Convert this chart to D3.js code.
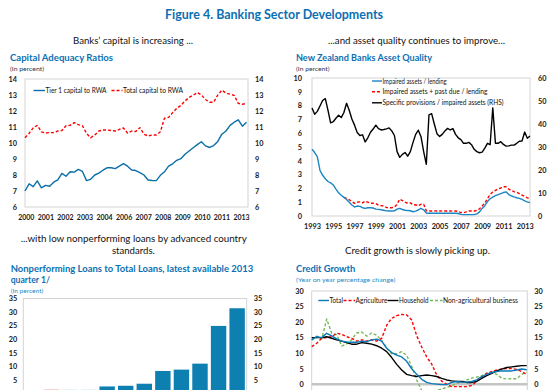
<!DOCTYPE html>
<html><head><meta charset="utf-8">
<script src="https://cdn.jsdelivr.net/npm/d3@7"></script>
<style>html,body{margin:0;padding:0;background:#fff;overflow:hidden}</style>
</head><body><svg id="c" width="550" height="390"></svg>
<script>
// ---------- DATA ----------
// Panel 1: Capital Adequacy Ratios (quarterly, 2000Q1 - 2013Q3)
const carTickLabels = ["2000","2001","2002","2003","2004","2006","2007","2008","2009","2010","2011","2013"];
const carYTicks = [6,7,8,9,10,11,12,13,14];
const tier1 = [7.0,7.45,7.27,7.63,7.2,7.35,7.3,7.55,7.7,8.1,
  7.92,8.2,8.18,8.35,8.22,7.65,7.73,8.0,8.12,8.3,
  8.45,8.45,8.4,8.55,8.71,8.55,8.31,8.28,8.15,8.0,
  7.69,7.66,7.65,7.98,8.2,8.55,8.7,8.92,9.02,9.3,
  9.5,9.7,9.9,10.08,9.82,9.72,9.84,10.1,10.55,10.75,
  11.1,11.3,11.45,11.05,11.3];
const totalCapital = [10.33,10.6,10.95,11.1,10.7,10.62,10.65,10.65,10.75,10.78,
  11.08,11.1,11.27,11.15,11.08,10.6,10.33,10.5,10.75,10.81,
  10.81,10.78,10.75,10.85,10.94,10.62,10.75,10.72,10.96,10.55,
  10.44,10.5,10.5,10.7,11.55,11.6,11.9,12.17,12.35,12.62,
  12.85,12.98,13.15,13.0,12.72,12.55,12.55,13.0,13.3,13.12,
  13.05,12.98,12.48,12.42,12.48];

// Panel 2: NZ Banks Asset Quality (quarterly, 1993Q1 - 2013Q3)
const aqYearTicks = [1993,1995,1997,1999,2001,2003,2005,2007,2009,2011,2013];
const aqLeftTicks = [0,1,2,3,4,5,6,7,8,9,10];
const aqRightTicks = [0,10,20,30,40,50,60];
const impaired = [4.85,4.6,4.3,3.3,2.95,2.7,2.5,2.4,2.25,1.95,
  1.68,1.5,1.35,1.2,1.0,0.8,0.65,0.72,0.7,0.6,
  0.55,0.6,0.6,0.58,0.5,0.48,0.45,0.42,0.37,0.36,
  0.36,0.37,0.5,0.55,0.47,0.42,0.4,0.38,0.31,0.35,
  0.45,0.55,0.45,0.22,0.2,0.2,0.2,0.2,0.2,0.2,
  0.2,0.2,0.2,0.2,0.2,0.18,0.12,0.1,0.1,0.1,
  0.1,0.1,0.15,0.3,0.55,0.75,1.05,1.25,1.37,1.47,
  1.55,1.62,1.7,1.75,1.55,1.45,1.38,1.32,1.28,1.2,
  1.1,1.02,0.97];
const impairedPastDue = [null,null,null,null,null,null,null,null,null,null,
  null,null,1.35,1.28,1.18,1.05,0.92,1.0,1.02,0.95,
  1.08,1.0,0.92,0.92,0.9,0.78,0.75,0.72,0.62,0.6,
  0.6,0.65,0.85,1.22,1.12,1.0,0.92,0.95,0.82,0.8,
  0.75,0.85,0.85,0.38,0.36,0.36,0.37,0.36,0.36,0.37,
  0.36,0.36,0.36,0.35,0.36,0.33,0.25,0.24,0.3,0.36,
  0.36,0.36,0.4,0.52,0.72,0.95,1.25,1.57,1.74,1.86,
  1.95,2.03,2.12,2.12,1.95,1.85,1.76,1.72,1.62,1.52,
  1.42,1.32,1.25];
const provisions = [47.0,44.2,45.5,47.8,50.2,51.0,46,40.5,41.0,42.5,
  43.8,42.8,45,49,46,42.2,39.5,36.3,35,35.3,
  32.2,34,36.4,37.8,39.5,38,37.4,37.6,37.9,38.3,
  37,35,28,25.5,26.8,27.6,26,28,32,35.5,
  37.3,34.5,28,22.5,44,44.5,40,35.8,34.6,35.5,
  37,38.1,37.4,38,35.5,34,33.2,31.6,31.6,32,
  31,29,28,27.5,27.8,29.5,31.6,31,47,31.6,
  31.6,32.3,31.1,30.4,30.5,30.8,30.8,31.6,32.5,32.6,
  36.5,33.8,34.8];

// Panel 3: Nonperforming loans to total loans (percent); category labels lie below the visible area
const nplCountries = ["Canada","New Zealand","Australia","Sweden","United States","United Kingdom","Japan","Spain","Portugal","Italy","Ireland","Greece"];
const nplValues = [0.5,1.5,1.4,1.4,2.6,2.85,3.6,8.3,8.8,11.0,24.9,31.4];
const nplTicks = [5,10,15,20,25,30,35];

// Panel 4: Credit growth (year-on-year % change, quarterly)
const cgTicks = [0,5,10,15,20,25,30];
const cgTotal = [14.3,15.3,15.0,16.4,15.6,14.6,13.9,13.6,13.5,13.5,
  13.9,13.7,14.3,14.5,13.9,11.6,10.2,9.4,8.8,7.4,
  5.0,3.2,1.6,0.6,0.2,0.05,-0.1,-0.1,0.6,0.9,
  0.7,0.7,0.9,1.4,2.5,3.2,3.8,4.1,4.3,4.3,
  4.3,4.6,4.9,4.7];
const cgAgriculture = [12.1,13.2,14.8,15.0,15.3,16.4,16.1,15.3,14.8,13.9,
  14.3,13.9,14.3,13.9,14.8,19.0,21.2,22.1,22.5,22.3,
  20.7,15.6,12.0,8.8,6.5,3.0,1.0,0.0,-0.75,-0.75,
  -0.75,-0.75,-0.4,1.0,2.2,3.5,4.1,4.6,4.9,5.1,
  5.1,4.8,4.1,3.2];
const cgHousehold = [15.0,15.0,15.0,15.3,14.8,14.3,13.9,13.4,12.9,12.9,
  13.4,13.2,12.9,12.4,11.6,10.5,8.6,6.4,4.6,3.2,
  2.8,2.5,2.8,3.0,2.8,2.5,1.9,1.4,1.1,0.9,
  0.9,0.6,0.6,0.9,1.9,2.8,3.5,4.3,4.9,5.4,
  5.6,5.8,6.0,6.0];
const cgNonAgri = [14.3,15.5,14.6,21.0,16.4,15.9,12.3,13.0,14.3,16.5,
  16.8,15.5,16.5,15.8,14.0,11.8,9.8,9.8,10.5,9.3,
  5.7,1.4,-2.0,-3.0,-2.5,-2.0,-1.5,-1.0,-0.5,0.3,
  0.8,1.4,2.0,2.3,2.8,3.6,3.8,3.2,2.0,1.7,
  1.8,1.8,3.2,3.9];

// ---------- DRAWING ----------
const svg = d3.select('#c');
const FONT = "Lato, 'Open Sans', 'DejaVu Sans', sans-serif";
const BLUE_T = "#0b6fb3";
const FRAME = "#d4d4d4";

function label(x, y, s, o = {}) {
  const t = svg.append('text').attr('x', x).attr('y', y).text(s)
    .attr('font-family', FONT).attr('font-size', o.size || 8)
    .attr('font-weight', o.w || 'normal').attr('fill', o.c || '#111')
    .attr('text-anchor', o.a || 'start');
  if (o.len) t.attr('textLength', o.len).attr('lengthAdjust', 'spacingAndGlyphs');
  return t;
}
function styleAxis(g) {
  g.select('.domain').remove();
  g.selectAll('text').attr('font-family', FONT).attr('font-size', 7.3)
    .attr('font-weight', 'bold').attr('fill', '#1a1a1a');
}
function frame(l, t, r, b) {
  svg.append('rect').attr('x', l).attr('y', t).attr('width', r - l).attr('height', b - t)
    .attr('fill', 'none').attr('stroke', FRAME).attr('stroke-width', 1);
}
function path(data, x, y, color, dash, w) {
  const line = d3.line().defined(d => d != null).x((d, i) => x(i)).y(d => y(d));
  svg.append('path').datum(data).attr('d', line).attr('fill', 'none')
    .attr('stroke', color).attr('stroke-width', w || 1.4)
    .attr('stroke-dasharray', dash || null).attr('stroke-linejoin', 'round');
}
function legendItem(x1, x2, y, color, dash, text, len, w) {
  svg.append('line').attr('x1', x1).attr('x2', x2).attr('y1', y).attr('y2', y)
    .attr('stroke', color).attr('stroke-width', w || 1.4).attr('stroke-dasharray', dash || null);
  label(x2 + 0.5, y + 2.5, text, {size: 7, len: len});
}

// Headings
label(274, 19, "Figure 4. Banking Sector Developments", {size: 13, w: 'bold', c: BLUE_T, a: 'middle', len: 218});
label(133, 44, "Banks’ capital is increasing ...", {size: 10, a: 'middle', len: 120});
label(416.5, 44, "...and asset quality continues to improve...", {size: 10, a: 'middle', len: 177});
label(133.7, 241.5, "...with low nonperforming loans by advanced country", {size: 10, a: 'middle', len: 226});
label(133.4, 254, "standards.", {size: 10, a: 'middle', len: 43});
label(417.5, 254, "Credit growth is slowly picking up.", {size: 10, a: 'middle', len: 145});

label(10, 61, "Capital Adequacy Ratios", {size: 10, w: 'bold', c: BLUE_T, len: 103});
label(10, 71, "(In percent)", {size: 6.5, c: '#1f3550', len: 34});
label(296, 61, "New Zealand Banks Asset Quality", {size: 10, w: 'bold', c: BLUE_T, len: 136});
label(296, 71, "(In percent)", {size: 6.5, c: '#1f3550', len: 33.5});
label(10.7, 271.7, "Nonperforming Loans to Total Loans, latest available 2013", {size: 10, w: 'bold', c: BLUE_T, len: 242.5});
label(10.7, 282.7, "quarter 1/", {size: 10, w: 'bold', c: BLUE_T, len: 39.3});
label(10.7, 293, "(In percent)", {size: 6.5, c: '#1d8ac8', len: 32.6});
label(296, 272, "Credit Growth", {size: 10, w: 'bold', c: BLUE_T, len: 59.3});
label(296, 281.5, "(Year on year percentage change)", {size: 6.5, c: '#1d8ac8', len: 99.3});

// ---- Panel 1 ----
{
  const L = 25, R = 248, T = 79, B = 207;
  const x = d3.scaleLinear().domain([0, tier1.length - 1]).range([L, 246.5]);
  const y = d3.scaleLinear().domain([6, 14]).range([B, T]);
  const xl = d3.scalePoint().domain(carTickLabels).range([25.8, 241]);
  frame(L, T, R, B);
  svg.append('g').attr('transform', `translate(${L},0)`)
    .call(d3.axisLeft(y).tickValues(carYTicks).tickSize(0).tickPadding(8)).call(styleAxis);
  svg.append('g').attr('transform', `translate(${R},0)`)
    .call(d3.axisRight(y).tickValues(carYTicks).tickSize(0).tickPadding(7)).call(styleAxis);
  svg.append('g').attr('transform', `translate(0,${B})`)
    .call(d3.axisBottom(xl).tickSize(0).tickPadding(8)).call(styleAxis)
    .selectAll('text').attr('font-size', 7);
  path(totalCapital, x, y, '#ff0000', '3,2');
  path(tier1, x, y, '#0b6fa8');
  legendItem(33.5, 45, 90.5, '#0b6fa8', null, "Tier 1 capital to RWA", 61);
  legendItem(111.5, 122.5, 90.5, '#ff0000', '3,2', "Total capital to RWA", 60);
}

// ---- Panel 2 ----
{
  const L = 312, R = 530, T = 78, B = 216;
  const x = d3.scaleLinear().domain([0, impaired.length - 1]).range([L, R]);
  const xy = d3.scaleLinear().domain([1993, 2013.5]).range([L, R]);
  const yl = d3.scaleLinear().domain([0, 10]).range([B, T]);
  const yr = d3.scaleLinear().domain([0, 60]).range([B, T]);
  frame(L, T, R, B);
  svg.append('g').attr('transform', `translate(${L},0)`)
    .call(d3.axisLeft(yl).tickValues(aqLeftTicks).tickSize(0).tickPadding(10)).call(styleAxis);
  svg.append('g').attr('transform', `translate(${R},0)`)
    .call(d3.axisRight(yr).tickValues(aqRightTicks).tickSize(0).tickPadding(8)).call(styleAxis);
  svg.append('g').attr('transform', `translate(0,${B})`)
    .call(d3.axisBottom(xy).tickValues(aqYearTicks).tickFormat(d3.format('d')).tickSize(0).tickPadding(8)).call(styleAxis);
  path(provisions, x, yr, '#000000');
  path(impairedPastDue, x, yl, '#ff0000', '3,2');
  path(impaired, x, yl, '#1a86c4');
  legendItem(372, 382, 81, '#1a86c4', null, "Impaired assets / lending", 64);
  legendItem(372, 382, 91.7, '#ff0000', '3,2', "Impaired assets + past due / lending", 105);
  legendItem(372, 382, 102.8, '#000000', null, "Specific provisions / impaired assets (RHS)", 121);
}

// ---- Panel 3 ----
{
  const L = 23.3, R = 246.7;
  const y = d3.scaleLinear().domain([0, 35]).range([393.5, 298.5]);
  const x = d3.scaleBand().domain(nplCountries).range([L, R]).paddingInner(0.17).paddingOuter(0.1);
  frame(L, y(35), R, y(0) + 30);
  svg.append('g').attr('transform', `translate(${L},0)`)
    .call(d3.axisLeft(y).tickValues(nplTicks).tickSize(0).tickPadding(6)).call(styleAxis);
  svg.append('g').attr('transform', `translate(${R},0)`)
    .call(d3.axisRight(y).tickValues(nplTicks).tickSize(0).tickPadding(7)).call(styleAxis);
  const colorOf = c => c === "New Zealand" ? '#f6b2aa' : (c === "Australia" || c === "Sweden") ? '#aed6ea' : '#0d7fb1';
  svg.append('g').selectAll('rect').data(nplCountries).join('rect')
    .attr('x', c => x(c)).attr('width', x.bandwidth())
    .attr('y', (c, i) => y(nplValues[i])).attr('height', (c, i) => y(0) - y(nplValues[i]))
    .attr('fill', c => colorOf(c));
}

// ---- Panel 4 ----
{
  const L = 311.7, R = 527.3;
  const x = d3.scaleLinear().domain([0, cgTotal.length - 1]).range([L, 526.7]);
  const y = d3.scaleLinear().domain([0, 30]).range([384.3, 291]);
  frame(L, y(30), R, y(-10));
  svg.append('line').attr('x1', L).attr('x2', R).attr('y1', y(0)).attr('y2', y(0))
    .attr('stroke', '#c4c4c4').attr('stroke-width', 2.5);
  svg.append('g').attr('transform', `translate(${L},0)`)
    .call(d3.axisLeft(y).tickValues(cgTicks).tickSize(0).tickPadding(8)).call(styleAxis);
  svg.append('g').attr('transform', `translate(${R},0)`)
    .call(d3.axisRight(y).tickValues(cgTicks).tickSize(0).tickPadding(7)).call(styleAxis);
  path(cgNonAgri, x, y, '#77b85a', '3,2');
  path(cgAgriculture, x, y, '#ff0000', '3,2');
  path(cgHousehold, x, y, '#000000');
  path(cgTotal, x, y, '#0b78b8');
  legendItem(318.3, 329, 300.5, '#0b78b8', null, "Total", 13.5);
  legendItem(343.5, 355, 300.5, '#ff0000', '3,2', "Agriculture", 32);
  legendItem(387.5, 398.5, 300.5, '#000000', null, "Household", 29.5);
  legendItem(430, 442.5, 300.5, '#77b85a', '3,2', "Non-agricultural business", 75);
}
</script></body></html>
